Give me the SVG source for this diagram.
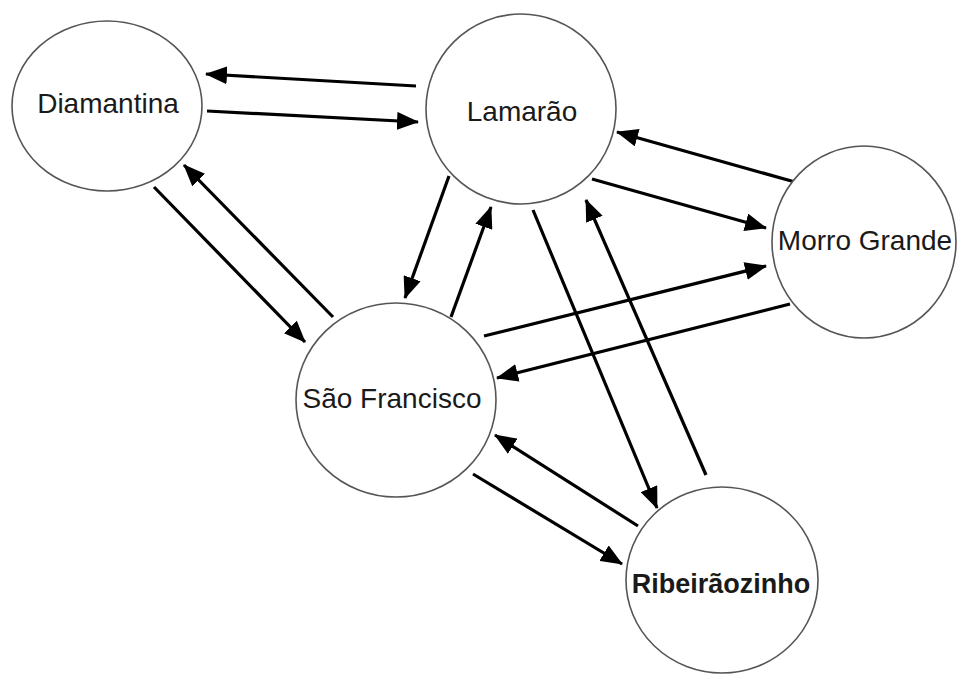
<svg xmlns="http://www.w3.org/2000/svg" width="957" height="675" viewBox="0 0 957 675">
<style>
.node{fill:#fff;stroke:#555;stroke-width:1.6}
.lbl{font-family:"Liberation Sans",Arial,sans-serif;font-size:28px;fill:#1a1a1a;text-anchor:middle}
.b{font-weight:bold;font-size:27px}
.edge{stroke:#000;stroke-width:3.2;fill:none;marker-end:url(#ah)}
</style>
<defs>
<marker id="ah" viewBox="0 0 22 18" refX="21" refY="9" markerWidth="22" markerHeight="18" markerUnits="userSpaceOnUse" orient="auto">
<path d="M0,0 L22,9 L0,18 Z" fill="#000"/>
</marker>
</defs>
<rect width="957" height="675" fill="#fff"/>
<g id="connectors">
<line class="edge" x1="416" y1="86" x2="206" y2="74"/>
<line class="edge" x1="207" y1="111" x2="418" y2="122"/>
<line class="edge" x1="154" y1="187" x2="305" y2="342"/>
<line class="edge" x1="333" y1="317" x2="184" y2="165"/>
<line class="edge" x1="449" y1="176" x2="405" y2="298"/>
<line class="edge" x1="451" y1="317" x2="491" y2="207"/>
<line class="edge" x1="795" y1="182" x2="617" y2="132"/>
<line class="edge" x1="592" y1="179" x2="766" y2="228"/>
<line class="edge" x1="484" y1="336" x2="766" y2="266"/>
<line class="edge" x1="790" y1="304" x2="497" y2="378"/>
<line class="edge" x1="533" y1="210" x2="657" y2="508"/>
<line class="edge" x1="706" y1="475" x2="586" y2="200"/>
<line class="edge" x1="638" y1="526" x2="495" y2="435"/>
<line class="edge" x1="473" y1="474" x2="622" y2="564"/>
</g>
<g id="diamantina">
<ellipse class="node" cx="107" cy="106" rx="95" ry="85"/>
<text class="lbl" x="108" y="113">Diamantina</text>
</g>
<g id="lamarao">
<ellipse class="node" cx="521" cy="109" rx="95" ry="95"/>
<text class="lbl" x="522" y="121">Lamarão</text>
</g>
<g id="morro-grande">
<ellipse class="node" cx="864" cy="242" rx="92" ry="96"/>
<text class="lbl" x="865" y="250">Morro Grande</text>
</g>
<g id="sao-francisco">
<ellipse class="node" cx="396" cy="400" rx="100" ry="97"/>
<text class="lbl" x="392" y="408">São Francisco</text>
</g>
<g id="ribeiraozinho">
<ellipse class="node" cx="722" cy="580" rx="96" ry="93"/>
<text class="lbl b" x="721" y="593">Ribeirãozinho</text>
</g>
</svg>
